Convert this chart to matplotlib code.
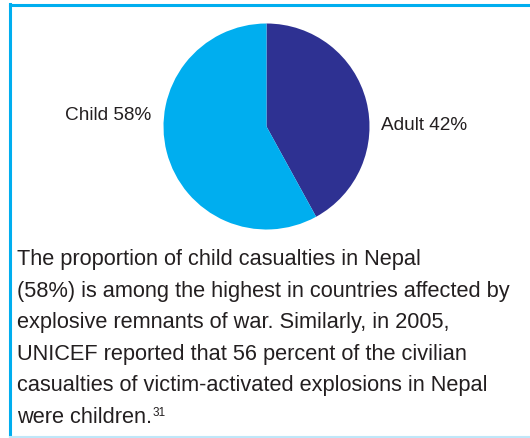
import matplotlib
matplotlib.use("Agg")
import matplotlib.pyplot as plt
from matplotlib.lines import Line2D

plt.rcParams['font.family'] = ['Liberation Sans', 'DejaVu Sans']

labels = ['Adult 42%', 'Child 58%']
shares = [42, 58]
colors = ['#2E3192', '#00AEEF']
caption = ["The proportion of child casualties in Nepal",
           "(58%) is among the highest in countries affected by",
           "explosive remnants of war. Similarly, in 2005,",
           "UNICEF reported that 56 percent of the civilian",
           "casualties of victim-activated explosions in Nepal",
           "were children."]
footnote = "31"

W, H = 530, 438
fig = plt.figure(figsize=(W / 100, H / 100), dpi=100)

def px(x, y):
    # pixel coords (from top-left) -> figure fraction
    return x / W, 1 - y / H

# pie
cx, cy, r = 266.5, 126.5, 103
ax = fig.add_axes([(cx - r) / W, 1 - (cy + r) / H, 2 * r / W, 2 * r / H])
ax.pie(shares, colors=colors, startangle=90, counterclock=False,
       wedgeprops=dict(linewidth=0))
ax.set_xlim(-1, 1)
ax.set_ylim(-1, 1)
ax.set_aspect('equal')
ax.axis('off')

txt_col = '#231F20'
fig.text(*px(424.5, 130), labels[0], ha='center', va='baseline', fontsize=13.7, color=txt_col)
fig.text(*px(108.5, 120), labels[1], ha='center', va='baseline', fontsize=13.7, color=txt_col)

# caption text
y0, dy = 265, 31.6
for i, line in enumerate(caption):
    t = fig.text(*px(17, y0 + i * dy), line, ha='left', va='baseline',
                 fontsize=15.7, color=txt_col)
fig.canvas.draw()
bb = t.get_window_extent()
fig.text((bb.x1 + 1) / W, 1 - (y0 + 5 * dy - 7) / H, footnote, ha='left', va='baseline',
         fontsize=8.5, color=txt_col)

# frame lines
fig.add_artist(Line2D([px(9.5, 0)[0], 1], [px(0, 5)[1]] * 2, color='#00AEEF', lw=2.2,
                      transform=fig.transFigure))
fig.add_artist(Line2D([px(9.5, 0)[0]] * 2, [px(0, 4)[1], 0], color='#00AEEF', lw=2.2,
                      transform=fig.transFigure))
fig.add_artist(Line2D([px(9.5, 0)[0], 1], [px(0, 437)[1]] * 2, color='#BFE7F9', lw=1.5,
                      transform=fig.transFigure))

fig.savefig('out.png', dpi=100)
